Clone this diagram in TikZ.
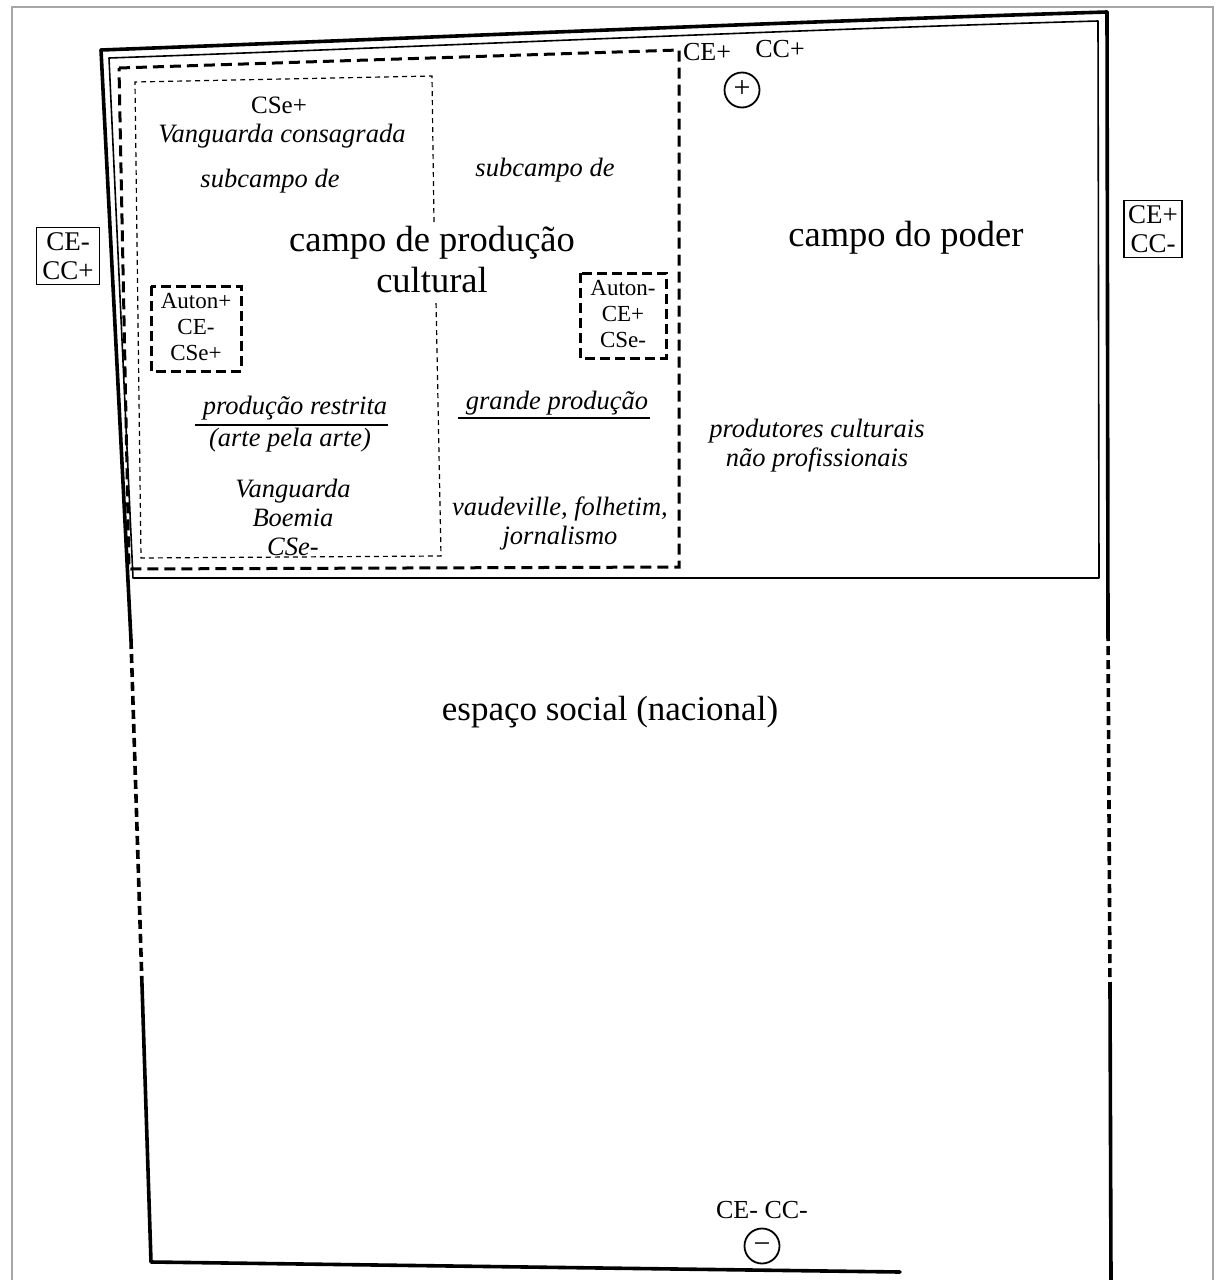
\documentclass[tikz,border=0pt]{standalone}
\usepackage{fontspec}
\setmainfont{Liberation Serif}
\begin{document}
\begin{tikzpicture}[x=1pt,y=-1pt,
  outer/.style={line width=3.6pt,line cap=round,line join=round},
  outerdash/.style={line width=3.6pt,dash pattern=on 9pt off 5pt},
  thinbox/.style={line width=1.6pt,line join=round},
  bigdash/.style={line width=3pt,dash pattern=on 11pt off 6pt},
  smalldash/.style={line width=1.2pt,dash pattern=on 5pt off 4pt},
  boxdash/.style={line width=3pt,dash pattern=on 10pt off 5pt},
  bigtxt/.style={font=\fontsize{36.5}{38}\selectfont,inner sep=0pt},
  midtxt/.style={font=\fontsize{35}{38}\selectfont,inner sep=0pt},
  ittxt/.style={font=\fontsize{26.5}{29}\selectfont\itshape,inner sep=0pt,align=center},
  uptxt/.style={font=\fontsize{25}{28}\selectfont,inner sep=0pt,align=center},
  sidetxt/.style={font=\fontsize{27}{29}\selectfont,align=center,draw,line width=1.4pt},
  smtxt/.style={font=\fontsize{23}{26}\selectfont,inner sep=0pt,align=center},
  sign/.style={circle,draw,line width=1.8pt,minimum size=35pt,inner sep=0pt},
  signglyph/.style={anchor=base,inner sep=0pt,font=\fontsize{30}{30}\selectfont},
  rulebar/.style={line width=1.4pt}]
\useasboundingbox (0,0) rectangle (1220,1280);
\fill[white] (0,0) rectangle (1220,1280);
% scan frame
\draw[gray!70,line width=1.5pt] (12,1280) -- (12,7) -- (1213,7) -- (1213,1280);

% outer (espaco social)
\coordinate (otl) at (101,50);
\coordinate (otr) at (1107,12);
\coordinate (or1) at (1108,632);
\coordinate (or2) at (1110,988);
\coordinate (obr) at (1111,1280);
\coordinate (ol1) at (131,640);
\coordinate (ol2) at (142,985);
\coordinate (obl) at (151,1262);
\coordinate (obe) at (900,1272);
\draw[outer] (otl) .. controls (420,38) and (780,22) .. (otr);
\draw[outer] (otr) -- (or1);
\draw[outerdash] (or1) -- (or2);
\draw[outer] (or2) -- (obr);
\draw[outer] (otl) -- (ol1);
\draw[outerdash] (ol1) -- (ol2);
\draw[outer] (ol2) -- (obl) -- (obe);

% campo do poder
\draw[thinbox] (109,58) .. controls (420,47) and (780,30) .. (1098,21) -- (1099,578) -- (133,578) -- cycle;

% campo de producao cultural
\draw[bigdash] (119,68) -- (679,50) -- (679,567) -- (129,569) -- cycle;

% subcampo producao restrita
\draw[smalldash] (434,222) -- (432,76) -- (135,82) -- (141,558) -- (441,556) -- (436,300);

% Auton boxes
\draw[boxdash] (151,286) rectangle (241,371);
\draw[boxdash] (580,273) rectangle (666,358);
\node[smtxt] (autonp) at (196,327) {Auton+\\CE-\\CSe+};
\node[smtxt] (autonm) at (623,314) {Auton-\\CE+\\CSe-};

% side boxes
\node[sidetxt,inner xsep=6pt,inner ysep=5pt] (cemccp) at (68,256) {CE-\\CC+};
\node[sidetxt,inner xsep=4pt,inner ysep=5pt] (cepccm) at (1153,229) {CE+\\CC-};

% top and bottom signs
\node[uptxt,font=\fontsize{26}{28}\selectfont] (cep) at (707,52) {CE+};
\node[uptxt,font=\fontsize{26}{28}\selectfont] (ccp) at (780,49) {CC+};
\node[sign] (plus) at (742,90) {};
\node[signglyph] (plusg) at ([yshift=-7.6pt]plus.center) {+};
\node[uptxt,font=\fontsize{26}{28}\selectfont] (cemccm) at (762,1210) {CE- CC-};
\node[sign] (minus) at (762,1246) {};
\node[signglyph] (minusg) at ([yshift=-7.6pt]minus.center) {−};

% texts
\node[uptxt,font=\fontsize{25}{28}\selectfont] (cse) at (279,105) {CSe+};
\node[ittxt] (vcons) at (282,136) {Vanguarda consagrada};
\node[ittxt] (sub1) at (270,181) {subcampo de};
\node[ittxt] (sub2) at (545,170) {subcampo de};
\node[bigtxt] (cpc1) at (432,243) {campo de produção};
\node[bigtxt] (cpc2) at (432,280) {cultural};
\node[bigtxt] (cpoder) at (906,238) {campo do poder};

\node[ittxt] (prest) at (295,408) {produção restrita};
\draw[rulebar] (195,425) -- (388,425);
\node[ittxt] (arte) at (290,440) {(arte pela arte)};
\node[ittxt] (vbc) at (293,517) {Vanguarda\\Boemia\\CSe-};

\node[ittxt] (gprod) at (557,403) {grande produção};
\draw[rulebar] (458,418) -- (650,418);
\node[ittxt] (vaud) at (560,523) {vaudeville, folhetim,\\jornalismo};

\node[ittxt] (prod) at (817,446) {produtores culturais\\não profissionais};

\node[midtxt] (esp) at (610,712) {espaço social (nacional)};
\end{tikzpicture}
\end{document}
